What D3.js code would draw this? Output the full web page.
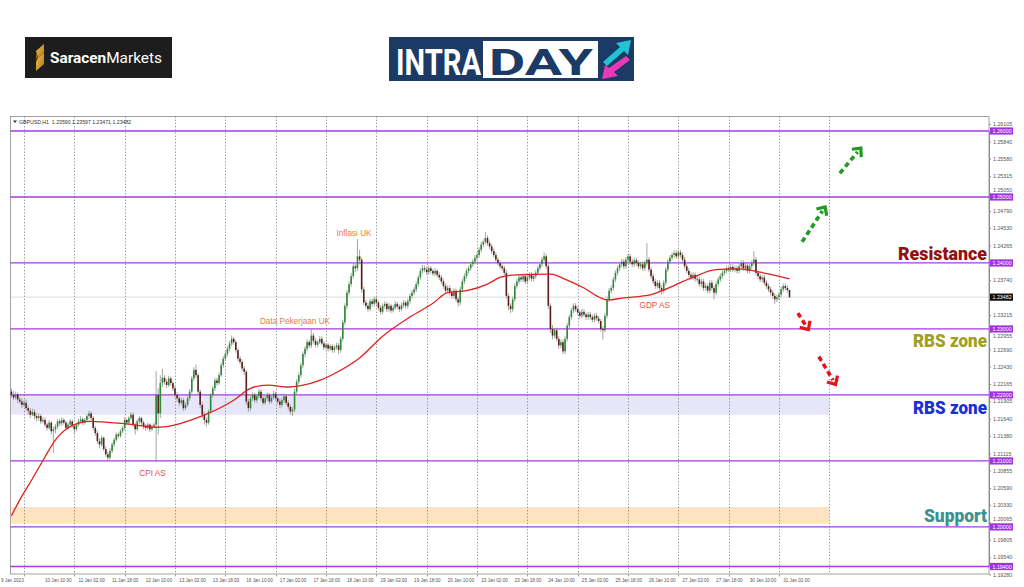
<!DOCTYPE html>
<html><head><meta charset="utf-8">
<script src="https://cdn.jsdelivr.net/npm/d3@7"></script>
<style>
html,body{margin:0;padding:0;background:#fff;}
svg{display:block;}
</style></head>
<body>
<svg id="chart" width="1024" height="587"></svg>
<script>
// ---------------- DATA ----------------
const symbolHeader = "GBPUSD,H1  1.23590 1.23597 1.23471 1.23482";
const timeLabels = ["9 Jan 2023","10 Jan 10:00","11 Jan 02:00","11 Jan 18:00","12 Jan 10:00","13 Jan 02:00","13 Jan 18:00","16 Jan 10:00","17 Jan 02:00","17 Jan 18:00","18 Jan 10:00","19 Jan 02:00","19 Jan 18:00","20 Jan 10:00","23 Jan 02:00","23 Jan 18:00","24 Jan 10:00","25 Jan 02:00","25 Jan 18:00","26 Jan 10:00","27 Jan 02:00","27 Jan 18:00","30 Jan 10:00","31 Jan 02:00"];
const timeLabelBars = [0,16,32,48,64,80,96,112,128,144,160,176,192,208,224,240,256,272,288,304,320,336,352,368];
const dayBreakBars = [6,30,54,78,102,126,150,174,198,222,246,270,294,318,342,366,390];
const priceTicks = [1.26105,1.25840,1.25580,1.25315,1.25050,1.24790,1.24530,1.24265,1.23740,1.23215,1.22955,1.22690,1.22430,1.22165,1.21905,1.21640,1.21380,1.21115,1.20855,1.20590,1.20330,1.20065,1.19805,1.19540,1.19280];
const levelPrices = [1.26000,1.25000,1.24000,1.23000,1.22000,1.21000,1.20000,1.19400];
const currentPrice = 1.23482;
const zoneLavender = [1.2170, 1.2200];
const zonePeach = [1.2005, 1.2030];
const zoneEndBar = 390;
const firstOpen = 1.2205;
const closes = [
1.2200,1.2196,1.2201,1.2193,1.2190,1.2185,1.2188,1.2180,1.2176,1.2170,1.2174,1.2168,
1.2165,1.2168,1.2160,1.2162,1.2155,1.2150,1.2158,1.2145,1.2148,1.2152,1.2160,1.2157,
1.2162,1.2158,1.2150,1.2155,1.2160,1.2153,1.2148,1.2155,1.2160,1.2163,1.2158,1.2162,
1.2168,1.2172,1.2165,1.2150,1.2142,1.2130,1.2125,1.2135,1.2118,1.2110,1.2105,1.2115,
1.2125,1.2132,1.2140,1.2138,1.2145,1.2150,1.2162,1.2158,1.2165,1.2170,1.2155,1.2148,
1.2160,1.2165,1.2158,1.2152,1.2150,1.2155,1.2148,1.2152,1.2155,1.2200,1.2172,1.2218,
1.2226,1.2220,1.2215,1.2225,1.2218,1.2210,1.2200,1.2195,1.2188,1.2192,1.2180,1.2185,
1.2195,1.2205,1.2225,1.2238,1.2230,1.2205,1.2185,1.2170,1.2162,1.2158,1.2175,1.2200,
1.2210,1.2222,1.2218,1.2230,1.2245,1.2255,1.2262,1.2270,1.2278,1.2285,1.2280,1.2268,
1.2255,1.2250,1.2240,1.2235,1.2190,1.2180,1.2195,1.2200,1.2192,1.2198,1.2205,1.2195,
1.2188,1.2195,1.2200,1.2190,1.2196,1.2202,1.2195,1.2190,1.2185,1.2192,1.2198,1.2188,
1.2182,1.2175,1.2178,1.2205,1.2220,1.2230,1.2245,1.2262,1.2270,1.2280,1.2275,1.2290,
1.2282,1.2276,1.2280,1.2285,1.2278,1.2272,1.2276,1.2270,1.2274,1.2268,1.2272,1.2275,
1.2268,1.2285,1.2310,1.2335,1.2355,1.2368,1.2380,1.2395,1.2392,1.2410,1.2405,1.2360,
1.2340,1.2335,1.2330,1.2342,1.2338,1.2345,1.2340,1.2332,1.2326,1.2335,1.2338,1.2330,
1.2335,1.2328,1.2332,1.2338,1.2334,1.2330,1.2336,1.2340,1.2335,1.2342,1.2350,1.2355,
1.2360,1.2368,1.2378,1.2388,1.2392,1.2390,1.2386,1.2392,1.2388,1.2384,1.2388,1.2382,
1.2378,1.2372,1.2365,1.2358,1.2362,1.2355,1.2350,1.2358,1.2345,1.2340,1.2360,1.2372,
1.2380,1.2388,1.2392,1.2398,1.2402,1.2408,1.2412,1.2420,1.2428,1.2432,1.2438,1.2430,
1.2425,1.2418,1.2412,1.2405,1.2400,1.2395,1.2392,1.2385,1.2350,1.2335,1.2330,1.2345,
1.2365,1.2372,1.2378,1.2375,1.2380,1.2372,1.2378,1.2382,1.2376,1.2380,1.2385,1.2392,
1.2398,1.2405,1.2410,1.2395,1.2335,1.2300,1.2290,1.2298,1.2285,1.2275,1.2280,1.2266,
1.2285,1.2305,1.2318,1.2328,1.2335,1.2330,1.2325,1.2320,1.2326,1.2322,1.2318,1.2322,
1.2318,1.2314,1.2320,1.2316,1.2312,1.2300,1.2298,1.2320,1.2345,1.2358,1.2362,1.2375,
1.2385,1.2392,1.2398,1.2402,1.2395,1.2405,1.2410,1.2402,1.2398,1.2404,1.2400,1.2395,
1.2398,1.2392,1.2400,1.2405,1.2390,1.2380,1.2372,1.2365,1.2370,1.2362,1.2358,1.2370,
1.2390,1.2402,1.2408,1.2412,1.2415,1.2410,1.2416,1.2412,1.2405,1.2395,1.2388,1.2382,
1.2378,1.2382,1.2376,1.2375,1.2368,1.2372,1.2362,1.2365,1.2358,1.2370,1.2362,1.2355,
1.2368,1.2375,1.2380,1.2385,1.2388,1.2392,1.2390,1.2394,1.2390,1.2392,1.2388,1.2395,
1.2400,1.2392,1.2396,1.2388,1.2395,1.2400,1.2405,1.2385,1.2380,1.2375,1.2378,1.2370,
1.2365,1.2360,1.2355,1.2350,1.2345,1.2348,1.2352,1.2360,1.2365,1.2362,1.2359,1.23482];
const highs = [
1.2210,1.2206,1.2205,1.2204,1.2197,1.2195,1.2192,1.2193,1.2184,1.2180,1.2179,1.2178,
1.2172,1.2172,1.2171,1.2166,1.2166,1.2158,1.2162,1.2160,1.2152,1.2156,1.2163,1.2164,
1.2166,1.2165,1.2161,1.2158,1.2164,1.2163,1.2156,1.2158,1.2164,1.2168,1.2166,1.2165,
1.2171,1.2176,1.2175,1.2168,1.2153,1.2146,1.2134,1.2138,1.2137,1.2122,1.2114,1.2119,
1.2128,1.2135,1.2143,1.2143,1.2148,1.2153,1.2166,1.2164,1.2168,1.2174,1.2173,1.2158,
1.2163,1.2168,1.2167,1.2161,1.2156,1.2158,1.2157,1.2155,1.2158,1.2236,1.2210,1.2230,
1.2240,1.2230,1.2224,1.2229,1.2228,1.2221,1.2213,1.2204,1.2198,1.2196,1.2195,1.2189,
1.2198,1.2209,1.2229,1.2242,1.2246,1.2233,1.2208,1.2189,1.2174,1.2166,1.2178,1.2203,
1.2214,1.2226,1.2226,1.2234,1.2249,1.2259,1.2266,1.2274,1.2282,1.2290,1.2288,1.2283,
1.2271,1.2259,1.2254,1.2244,1.2238,1.2194,1.2198,1.2204,1.2203,1.2201,1.2209,1.2208,
1.2199,1.2199,1.2204,1.2203,1.2199,1.2206,1.2205,1.2198,1.2194,1.2196,1.2202,1.2201,
1.2192,1.2186,1.2182,1.2209,1.2224,1.2234,1.2249,1.2266,1.2274,1.2284,1.2283,1.2300,
1.2294,1.2286,1.2283,1.2289,1.2289,1.2281,1.2279,1.2279,1.2277,1.2277,1.2275,1.2279,
1.2279,1.2289,1.2314,1.2339,1.2359,1.2372,1.2385,1.2400,1.2399,1.2436,1.2420,1.2408,
1.2364,1.2344,1.2340,1.2346,1.2346,1.2349,1.2350,1.2343,1.2336,1.2339,1.2342,1.2341,
1.2339,1.2338,1.2336,1.2342,1.2341,1.2337,1.2340,1.2344,1.2343,1.2346,1.2354,1.2359,
1.2364,1.2372,1.2382,1.2392,1.2397,1.2396,1.2394,1.2396,1.2395,1.2391,1.2392,1.2391,
1.2386,1.2382,1.2376,1.2369,1.2366,1.2366,1.2359,1.2362,1.2361,1.2349,1.2364,1.2376,
1.2384,1.2392,1.2396,1.2402,1.2406,1.2412,1.2416,1.2424,1.2432,1.2436,1.2447,1.2442,
1.2434,1.2429,1.2422,1.2416,1.2409,1.2404,1.2399,1.2396,1.2389,1.2354,1.2339,1.2349,
1.2369,1.2376,1.2382,1.2382,1.2384,1.2384,1.2382,1.2386,1.2386,1.2384,1.2389,1.2396,
1.2402,1.2409,1.2416,1.2414,1.2399,1.2339,1.2306,1.2302,1.2302,1.2289,1.2284,1.2284,
1.2289,1.2309,1.2322,1.2332,1.2339,1.2339,1.2334,1.2328,1.2330,1.2330,1.2325,1.2326,
1.2326,1.2322,1.2324,1.2324,1.2320,1.2315,1.2304,1.2324,1.2349,1.2362,1.2366,1.2379,
1.2389,1.2396,1.2402,1.2406,1.2406,1.2409,1.2414,1.2414,1.2406,1.2408,1.2408,1.2404,
1.2402,1.2402,1.2404,1.2430,1.2409,1.2394,1.2384,1.2376,1.2374,1.2374,1.2366,1.2374,
1.2394,1.2406,1.2412,1.2416,1.2419,1.2419,1.2420,1.2420,1.2416,1.2409,1.2399,1.2392,
1.2386,1.2386,1.2386,1.2380,1.2379,1.2376,1.2376,1.2369,1.2369,1.2374,1.2374,1.2366,
1.2372,1.2379,1.2384,1.2389,1.2392,1.2396,1.2396,1.2398,1.2398,1.2396,1.2396,1.2399,
1.2404,1.2404,1.2400,1.2400,1.2399,1.2404,1.2418,1.2409,1.2389,1.2384,1.2382,1.2382,
1.2374,1.2369,1.2364,1.2359,1.2354,1.2352,1.2356,1.2364,1.2369,1.2369,1.2366,1.23597];
const lows = [
1.2196,1.2192,1.2193,1.2188,1.2186,1.2180,1.2182,1.2176,1.2170,1.2165,1.2168,1.2163,
1.2160,1.2161,1.2156,1.2157,1.2151,1.2146,1.2147,1.2140,1.2112,1.2142,1.2148,1.2153,
1.2153,1.2155,1.2146,1.2147,1.2152,1.2150,1.2142,1.2145,1.2152,1.2157,1.2154,1.2155,
1.2160,1.2164,1.2162,1.2146,1.2138,1.2126,1.2119,1.2122,1.2115,1.2106,1.2100,1.2102,
1.2112,1.2121,1.2129,1.2134,1.2135,1.2142,1.2147,1.2154,1.2155,1.2162,1.2152,1.2140,
1.2145,1.2156,1.2154,1.2148,1.2146,1.2147,1.2144,1.2145,1.2150,1.2098,1.2140,1.2165,
1.2212,1.2216,1.2210,1.2212,1.2214,1.2206,1.2196,1.2190,1.2183,1.2185,1.2176,1.2177,
1.2182,1.2191,1.2202,1.2221,1.2226,1.2200,1.2180,1.2165,1.2155,1.2152,1.2155,1.2172,
1.2196,1.2206,1.2214,1.2215,1.2227,1.2241,1.2251,1.2258,1.2266,1.2274,1.2276,1.2264,
1.2251,1.2246,1.2236,1.2230,1.2185,1.2174,1.2176,1.2191,1.2188,1.2188,1.2195,1.2191,
1.2184,1.2185,1.2191,1.2186,1.2187,1.2193,1.2191,1.2186,1.2180,1.2181,1.2188,1.2184,
1.2178,1.2170,1.2168,1.2174,1.2200,1.2216,1.2226,1.2241,1.2257,1.2266,1.2271,1.2271,
1.2278,1.2272,1.2272,1.2277,1.2275,1.2268,1.2269,1.2266,1.2267,1.2264,1.2264,1.2269,
1.2262,1.2264,1.2281,1.2306,1.2330,1.2351,1.2364,1.2376,1.2386,1.2388,1.2398,1.2355,
1.2336,1.2331,1.2326,1.2327,1.2334,1.2334,1.2336,1.2328,1.2322,1.2322,1.2331,1.2326,
1.2326,1.2324,1.2325,1.2329,1.2330,1.2326,1.2327,1.2332,1.2331,1.2331,1.2338,1.2346,
1.2351,1.2356,1.2364,1.2374,1.2384,1.2386,1.2382,1.2382,1.2384,1.2380,1.2380,1.2378,
1.2374,1.2368,1.2361,1.2354,1.2354,1.2351,1.2346,1.2346,1.2341,1.2334,1.2336,1.2356,
1.2368,1.2376,1.2384,1.2388,1.2394,1.2398,1.2404,1.2408,1.2416,1.2424,1.2428,1.2426,
1.2421,1.2414,1.2408,1.2401,1.2396,1.2391,1.2388,1.2381,1.2346,1.2328,1.2324,1.2326,
1.2341,1.2361,1.2368,1.2371,1.2371,1.2368,1.2368,1.2374,1.2372,1.2372,1.2376,1.2381,
1.2388,1.2394,1.2401,1.2391,1.2330,1.2294,1.2284,1.2286,1.2281,1.2270,1.2271,1.2262,
1.2262,1.2281,1.2301,1.2314,1.2324,1.2326,1.2321,1.2316,1.2316,1.2318,1.2314,1.2314,
1.2314,1.2310,1.2310,1.2312,1.2308,1.2296,1.2284,1.2295,1.2316,1.2341,1.2354,1.2358,
1.2371,1.2381,1.2388,1.2394,1.2391,1.2391,1.2401,1.2398,1.2394,1.2394,1.2396,1.2391,
1.2391,1.2388,1.2388,1.2396,1.2386,1.2376,1.2368,1.2361,1.2361,1.2358,1.2352,1.2354,
1.2366,1.2386,1.2398,1.2404,1.2408,1.2406,1.2406,1.2408,1.2401,1.2391,1.2384,1.2378,
1.2374,1.2374,1.2372,1.2371,1.2364,1.2364,1.2358,1.2358,1.2354,1.2354,1.2358,1.2345,
1.2351,1.2364,1.2371,1.2376,1.2381,1.2384,1.2386,1.2386,1.2386,1.2386,1.2384,1.2384,
1.2391,1.2388,1.2388,1.2384,1.2384,1.2391,1.2396,1.2381,1.2376,1.2371,1.2371,1.2366,
1.2361,1.2356,1.2351,1.2346,1.2338,1.2341,1.2344,1.2348,1.2356,1.2358,1.2355,1.23471];
// moving average read at sample bars: [bar, price]
const maBars   = [0,4,10,16,21,27,37,55,69,74,90,106,114,122,132,138,147,155,166,177,190,201,208,217,227,233,241,257,265,273,281,284,292,305,311,324,336,347,357,363,371];
const maValues = [1.2017,1.2041,1.2073,1.2106,1.2132,1.2150,1.2160,1.2156,1.2151,1.2152,1.2167,1.2192,1.2210,1.2215,1.2212,1.2214,1.2222,1.2234,1.2256,1.2289,1.2318,1.2339,1.2355,1.2358,1.2368,1.2378,1.2382,1.2383,1.2374,1.2362,1.2347,1.2344,1.2347,1.2352,1.2359,1.2377,1.2390,1.2391,1.2386,1.2382,1.2376];
// event notes: [label, bar, price at text centre]
const eventNotes = [["CPI AS",61,1.20818],["Data Pekerjaan UK",118.5,1.23122],["Inflasi UK",155,1.24455],["GDP AS",299.5,1.23364]];
// side labels: [text, price at text centre]
const sideLabels = [["Resistance",1.24152],["RBS zone",1.22833],["RBS zone",1.21818],["Support",1.20182]];
// scenario arrows: [fromBar, fromPrice, toBar, toPrice]
const upArrows = [[377,1.2432,388,1.2485],[395,1.2536,405,1.2574]];
const downArrows = [[375,1.2324,380,1.2299],[385,1.2258,393,1.2216]];

// ---------------- DRAW ----------------
const svg = d3.select("#chart");
const x = d3.scaleLinear().domain([0, 371]).range([11.42, 789.5]);
const y = d3.scaleLinear().domain([1.194, 1.26]).range([566.5, 131]);
const L = 10.5, T = 116.5, R = 989, B = 574;

// squeeze a text horizontally (via transform) so it spans exactly `w` px
function fitText(g, textSel, w){
  const nat = textSel.node().getComputedTextLength();
  const sx = w / nat;
  const tr = g.attr("transform") || "";
  g.attr("transform", tr + ` scale(${sx},1)`);
}

// ---- logos ----
const defs = svg.append("defs");
const gg = defs.append("linearGradient").attr("id","gold").attr("x1","0").attr("y1","0").attr("x2","1").attr("y2","1");
gg.append("stop").attr("offset","0").attr("stop-color","#f3c54a");
gg.append("stop").attr("offset","1").attr("stop-color","#a8741a");
const lg1 = svg.append("g");
lg1.append("rect").attr("x",25).attr("y",37).attr("width",147).attr("height",41).attr("fill","#1d1d1d");
lg1.append("path").attr("d","M36,51 L44,44 L44,53 L38,58 Z").attr("fill","url(#gold)");
lg1.append("path").attr("d","M38,58 L44,53 L44,64 L36,71 L36,62 Z").attr("fill","url(#gold)");
lg1.append("path").attr("d","M36,51 L38,58 L36,62 Z").attr("fill","#8a5c12");
const sg = lg1.append("g").attr("transform","translate(50,63)");
const st = sg.append("text").attr("x",0).attr("y",0).attr("font-family","Roboto, 'Open Sans', sans-serif").attr("font-size",15).attr("fill","#fff");
st.append("tspan").attr("font-weight","bold").text("Saracen");
st.append("tspan").attr("font-weight","normal").text("Markets");
fitText(sg, st, 112);

const lg2 = svg.append("g");
lg2.append("rect").attr("x",389).attr("y",37).attr("width",245).attr("height",44).attr("fill","#1b3a66");
const ig = lg2.append("g").attr("transform","translate(396,75)");
const it = ig.append("text").attr("font-family","Roboto, sans-serif").attr("font-weight","bold").attr("font-size",37).attr("fill","#fff").text("INTRA");
fitText(ig, it, 85);
lg2.append("rect").attr("x",483).attr("y",41).attr("width",115).attr("height",37).attr("fill","#fff");
const dg = lg2.append("g").attr("transform","translate(489,75)");
const dt = dg.append("text").attr("font-family","Roboto, sans-serif").attr("font-weight","bold").attr("font-size",37).attr("fill","#1b3a66").text("DAY");
fitText(dg, dt, 104);
lg2.append("path").attr("d","M603,62 L620,47 L616,43 L631,40 L628,55 L624,51 L607,66 Z").attr("fill","#22c4d4");
lg2.append("path").attr("d","M630,60 L614,72 L618,76 L602,79 L605,65 L609,68 L626,56 Z").attr("fill","#e83ab8");

// ---- chart frame ----
svg.append("rect").attr("x",L).attr("y",T).attr("width",R-L).attr("height",B-T).attr("fill","#fff").attr("stroke","#8a8a8a").attr("stroke-width",0.8);

// zones
const zoneG = svg.append("g");
zoneG.append("rect").attr("x",x(0)-0.5).attr("width",x(zoneEndBar)-x(0)+0.5)
  .attr("y",y(zoneLavender[1])).attr("height",y(zoneLavender[0])-y(zoneLavender[1])).attr("fill","#e6e6f8");
zoneG.append("rect").attr("x",x(0)-0.5).attr("width",x(zoneEndBar)-x(0)+0.5)
  .attr("y",y(zonePeach[1])).attr("height",y(zonePeach[0])-y(zonePeach[1])).attr("fill","#fde3c2");

// vertical dotted grid
svg.append("g").selectAll("line").data(dayBreakBars).join("line")
  .attr("x1",d=>Math.round(x(d))+0.5).attr("x2",d=>Math.round(x(d))+0.5)
  .attr("y1",T).attr("y2",B).attr("stroke","#6e6e6e").attr("stroke-width",0.8).attr("stroke-dasharray","1.2,2");

// current price (bid) line
svg.append("line").attr("x1",L).attr("x2",R).attr("y1",y(currentPrice)).attr("y2",y(currentPrice)).attr("stroke","#d0d0d0").attr("stroke-width",0.8);

// horizontal levels
svg.append("g").selectAll("line").data(levelPrices).join("line")
  .attr("x1",L).attr("x2",R).attr("y1",d=>y(d)).attr("y2",d=>y(d))
  .attr("stroke","#a43be0").attr("stroke-width",1.3);

// candles
const bars = closes.map((c,i)=>({i, o: i ? closes[i-1] : firstOpen, h: highs[i], l: lows[i], c}));
const cg = svg.append("g");
cg.selectAll("line").data(bars).join("line")
  .attr("x1",d=>x(d.i)).attr("x2",d=>x(d.i))
  .attr("y1",d=>y(Math.max(d.h,d.o,d.c))).attr("y2",d=>y(Math.min(d.l,d.o,d.c)))
  .attr("stroke","#8f8f8f").attr("stroke-width",0.8);
cg.selectAll("rect").data(bars).join("rect")
  .attr("x",d=>x(d.i)-0.8).attr("width",1.6)
  .attr("y",d=>y(Math.max(d.o,d.c))).attr("height",d=>Math.max(0.7,Math.abs(y(d.o)-y(d.c))))
  .attr("fill",d=>d.c>=d.o ? "#2f8a36" : "#5a1e1e");

// moving average
const maData = maBars.map((b,k)=>[b,maValues[k]]);
svg.append("path").datum(maData)
  .attr("d",d3.line().x(d=>x(d[0])).y(d=>y(d[1])).curve(d3.curveMonotoneX))
  .attr("fill","none").attr("stroke","#e0201e").attr("stroke-width",1.3);

// event notes
svg.append("g").selectAll("text").data(eventNotes).join("text")
  .attr("x",d=>x(d[1])).attr("y",d=>y(d[2])).attr("dy","0.35em")
  .attr("font-family","'Liberation Sans', Arial, sans-serif").attr("font-size",8.2)
  .attr("fill",(d,i)=> i===1||i===2 ? "#ee7a45" : "#e0504a").text(d=>d[0]);

// side labels (right edge at x=987, squeezed to the reference widths)
const sideColors = ["#8e1212","#a1a01e","#1a2fd6","#3e9090"];
const sideWidths = [89,74,74,63];
sideLabels.forEach((d,i)=>{
  const g = svg.append("g").attr("transform",`translate(${987 - sideWidths[i]},${y(d[1])})`);
  const t = g.append("text").attr("x",0).attr("y",0).attr("dy","0.36em")
    .attr("font-family","Roboto, 'Open Sans', sans-serif").attr("font-weight","900").attr("font-size",19)
    .attr("fill",sideColors[i]).text(d[0]);
  fitText(g, t, sideWidths[i]);
});

// arrows
function drawArrow(a, color){
  const x1=x(a[0]), y1=y(a[1]), x2=x(a[2]), y2=y(a[3]);
  const ang = Math.atan2(y2-y1, x2-x1);
  const g = svg.append("g");
  const back = 5;
  g.append("line").attr("x1",x1).attr("y1",y1).attr("x2",x2-back*Math.cos(ang)).attr("y2",y2-back*Math.sin(ang))
    .attr("stroke",color).attr("stroke-width",3.6).attr("stroke-dasharray","5,3.5");
  const hl = 9, spread = 0.75;
  const p1 = [x2 - hl*Math.cos(ang-spread), y2 - hl*Math.sin(ang-spread)];
  const p2 = [x2 - hl*Math.cos(ang+spread), y2 - hl*Math.sin(ang+spread)];
  g.append("path").attr("d",`M${p1[0]},${p1[1]} L${x2},${y2} L${p2[0]},${p2[1]}`)
    .attr("fill","none").attr("stroke",color).attr("stroke-width",3.2).attr("stroke-linejoin","miter");
}
upArrows.forEach(a=>drawArrow(a,"#1f9a22"));
downArrows.forEach(a=>drawArrow(a,"#e3141a"));

// price axis
const yAxis = d3.axisRight(y).tickValues(priceTicks).tickSize(2).tickPadding(2).tickFormat(d3.format(".5f"));
const ya = svg.append("g").attr("transform",`translate(${R},0)`).call(yAxis);
ya.select(".domain").attr("stroke","#8a8a8a");
ya.selectAll(".tick line").attr("stroke","#8a8a8a");
ya.selectAll("text").attr("font-family","'Liberation Sans', Arial, sans-serif").attr("font-size",5.3).attr("fill","#555");
// labels that sit right at a level box peek out just beside it
ya.selectAll(".tick").filter(d=>levelPrices.some(l=>Math.abs(l-d)<0.0008)).select("text")
  .attr("dy",d=> d>levelPrices.find(l=>Math.abs(l-d)<0.0008) ? "-0.4em" : "1.05em");

// level boxes
const lb = svg.append("g").selectAll("g").data(levelPrices).join("g").attr("transform",d=>`translate(${R+1},${y(d)})`);
lb.append("rect").attr("x",0).attr("y",-3.6).attr("width",23).attr("height",7.2).attr("fill","#9f35dc");
lb.append("text").attr("x",2.5).attr("y",2).attr("font-family","'Liberation Sans', Arial, sans-serif").attr("font-size",5.3).attr("fill","#fff").text(d=>d3.format(".5f")(d));

// current price box
const cp = svg.append("g").attr("transform",`translate(${R+1},${y(currentPrice)})`);
cp.append("rect").attr("x",0).attr("y",-3.6).attr("width",23).attr("height",7.2).attr("fill","#111");
cp.append("text").attr("x",2.5).attr("y",2).attr("font-family","'Liberation Sans', Arial, sans-serif").attr("font-size",5.3).attr("fill","#fff").text(d3.format(".5f")(currentPrice));

// time axis
const xa = svg.append("g").attr("transform",`translate(0,${B})`);
xa.selectAll("line").data(dayBreakBars.filter(d=>d<=371)).join("line")
  .attr("x1",d=>Math.round(x(d))+0.5).attr("x2",d=>Math.round(x(d))+0.5).attr("y1",0).attr("y2",2.5).attr("stroke","#8a8a8a").attr("stroke-width",0.8);
xa.selectAll("text").data(timeLabelBars).join("text")
  .attr("x",(d,i)=> i===0 ? 1 : x(d)).attr("y",8)
  .attr("font-family","'Liberation Sans', Arial, sans-serif").attr("font-size",4.6).attr("fill","#555")
  .text((d,i)=>timeLabels[i]);

// header
svg.append("path").attr("d","M13,120.5 L17,120.5 L15,123 Z").attr("fill","#333");
svg.append("text").attr("x",19).attr("y",123.5).attr("font-family","'Liberation Sans', Arial, sans-serif").attr("font-size",5.2).attr("fill","#333").attr("xml:space","preserve").text(symbolHeader);
</script>
</body></html>
